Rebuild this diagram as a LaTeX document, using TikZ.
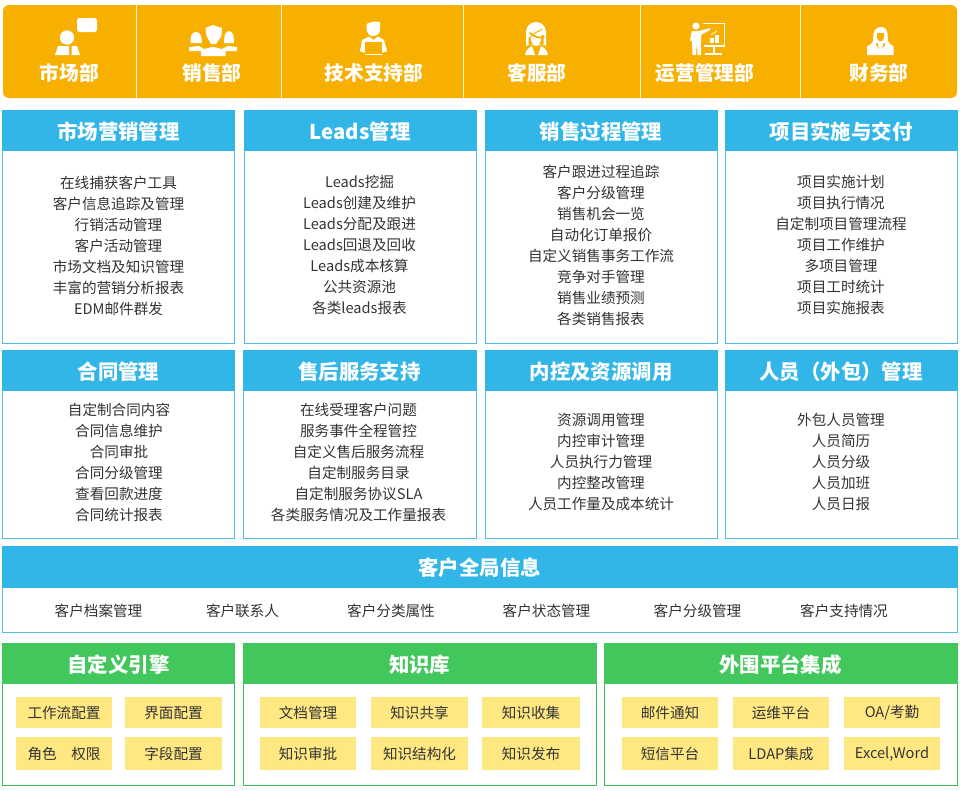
\documentclass[tikz,border=0pt]{standalone}
\usepackage{fontspec}
\setmainfont{Noto Sans CJK SC}
\definecolor{barY}{HTML}{F7B000}
\definecolor{headB}{HTML}{32B6E8}
\definecolor{edgeB}{HTML}{4DBDE8}
\definecolor{headG}{HTML}{41C75C}
\definecolor{edgeG}{HTML}{3DBB58}
\definecolor{chipY}{HTML}{FFE882}
\definecolor{txt}{HTML}{333333}
\tikzset{
 x=1pt,y=-1pt,
 toplabel/.style={text=white,font=\fontsize{19.7}{20}\selectfont\bfseries,inner sep=0pt},
 headlabel/.style={text=white,font=\fontsize{20.4}{22}\selectfont\bfseries,inner sep=0pt},
 bodytext/.style={text=txt,font=\fontsize{14.6}{21}\selectfont,align=center,inner sep=0pt},
 chiptext/.style={text=txt,font=\fontsize{14.6}{18}\selectfont,inner sep=0pt},
 divider/.style={draw=white!85!barY,line width=.8pt},
 icon/.style={fill=white,draw=none},
 iconline/.style={draw=white,line width=1.3pt,fill=none},
}
% name, x0, x1, ytop, yhead, ybot, head colour, edge colour, title
\newcommand{\panelbox}[9]{%
 \path[fill=white,draw=#8,line width=1pt] (#2,#4) rectangle (#3,#6);
 \path[fill=#7] (#2-.5,#4-.5) rectangle (#3+.5,#5);
 \node[headlabel] (#1) at ({(#2+#3)/2},{(#4+#5)/2+.8}) {#9};
}
\newcommand{\chipbox}[6]{%
 \path[fill=chipY] (#2,#4) rectangle (#3,#5);
 \node[chiptext] (#1) at ({(#2+#3)/2},{(#4+#5)/2+.6}) {#6};
}
\begin{document}
\begin{tikzpicture}
\useasboundingbox[fill=white] (0,0) rectangle (960,790);
% top bar
\path[fill=barY,rounded corners=6pt] (3,5) rectangle (957,98);
\foreach \xx in {136,281,463,640,800} \draw[divider] (\xx,5) -- (\xx,98);
\node[toplabel] (t1) at (69.5,73) {市场部};
\node[toplabel] (t2) at (212,73) {销售部};
\node[toplabel] (t3) at (374,73) {技术支持部};
\node[toplabel] (t4) at (537,73) {客服部};
\node[toplabel] (t5) at (705,73) {运营管理部};
\node[toplabel] (t6) at (879,73) {财务部};
% icon: market
\fill[icon] (67,37.5) circle (7.2);
\fill[icon] (58,46) -- (69,46) -- (69,55) -- (55,55) -- cycle;
\fill[icon] (71.5,46) -- (77,46) -- (80,55) -- (71.5,55) -- cycle;
\fill[icon,rounded corners=2.5pt] (77,18) rectangle (97,32);
% icon: sales
\fill[icon] (190.5,43) .. controls (190,36) and (192,32) .. (196,32) .. controls (200,32) and (202,36) .. (202,43) -- cycle;
\fill[icon] (205.5,28) -- (213,25) -- (222,28) -- (221.5,36) -- (216,44) -- (211,44) -- (206.5,36) -- cycle;
\fill[icon] (224,43) .. controls (224,36) and (225,31) .. (229,31) .. controls (233,31) and (234,36) .. (234,43) -- cycle;
\fill[icon] (189,47) -- (199,46) -- (204,49) -- (212,47) -- (214,47) -- (222,49) -- (228,46) -- (237,47) -- (237,51) -- (225.5,51) -- (225.5,56) -- (201,56) -- (201,51) -- (189,51) -- cycle;
% icon: tech
\fill[icon] (366.5,24) .. controls (370,22) and (375,21) .. (380,22) -- (380,30) .. controls (380,33) and (377,36) .. (373.5,36) .. controls (369,36) and (367,33) .. (366.5,30) -- cycle;
\fill[icon] (362,40) -- (369,36.5) -- (373.5,40) -- (378,36.5) -- (384,40) -- (387,51) -- (384,52.5) -- (363,52.5) -- (360,51) -- cycle;
\fill[barY] (365,42) rectangle (382,52.6);
\fill[icon] (365,53.5) rectangle (382,55);
% icon: service
\fill[icon] (526,46) -- (526,32) .. controls (526,26) and (531,22) .. (536,22) .. controls (541,22) and (546,26) .. (546,32) -- (546,46) -- (542,44) -- (536,46) -- (530,44) -- cycle;
\fill[barY] (528.5,44) -- (528.5,37) -- (530.5,37) -- (531,41) -- (533,44) -- cycle;
\fill[barY] (543.5,44) -- (543.5,35) -- (541.5,35) -- (541,41) -- (539,44) -- cycle;
\draw[barY,line width=1.8pt,line cap=round] (530,33) .. controls (534,36) and (538,39) .. (544,37);
\draw[barY,line width=1pt] (531,37) .. controls (534,32) and (539,32) .. (542,29);
\fill[icon] (525,55) .. controls (526,50) and (529,47) .. (532,46) -- (535,55) -- cycle;
\fill[icon] (548,55) .. controls (547,50) and (544,47) .. (541,46) -- (538,55) -- cycle;
% icon: operations
\fill[icon] (696,26) circle (3.6);
\fill[icon] (692,31) -- (699,31) -- (710,28) -- (710,30) -- (701,35) -- (701,55) -- (697.5,55) -- (697,42) -- (696,55) -- (692.5,55) -- (692,42) -- (690,40) -- cycle;
\draw[iconline] (703,23.5) -- (724.5,23.5) -- (724.5,46) -- (704,46);
\fill[icon] (712.5,46) rectangle (714.5,53);
\fill[icon] (705,53) rectangle (722,55);
\fill[icon] (710,38) rectangle (713.5,43);
\fill[icon] (715,35) rectangle (718.5,43);
\draw[iconline,line width=.8pt] (711,35) -- (717,31);
% icon: finance
\fill[icon] (873.5,34) .. controls (874,29) and (878,27) .. (881,27) .. controls (885,27) and (887.5,30) .. (887.5,34) -- (888,41) -- (890,44) -- (893.5,46.5) -- (893.5,55) -- (867,55) -- (867,46.5) -- (871,44) -- (873,41) -- cycle;
\fill[barY] (877,33) -- (884,33) -- (884,38) -- (882,41) -- (879,41) -- (877,38) -- cycle;
\fill[barY] (875.5,44) -- (877.5,43) -- (879,49) -- cycle;
\fill[barY] (885.5,44) -- (883.5,43) -- (882,49) -- cycle;
% row 1
\panelbox{h1}{2.5}{234.5}{110}{151}{343}{headB}{edgeB}{市场营销管理}
\panelbox{h2}{244}{476}{110}{151}{343}{headB}{edgeB}{Leads管理}
\panelbox{h3}{485}{717}{110}{151}{343}{headB}{edgeB}{销售过程管理}
\panelbox{h4}{725}{957}{110}{151}{343}{headB}{edgeB}{项目实施与交付}
\node[bodytext] (b1) at (118.5,246.4) {在线捕获客户工具\\客户信息追踪及管理\\行销活动管理\\客户活动管理\\市场文档及知识管理\\丰富的营销分析报表\\EDM邮件群发};
\node[bodytext] (b2) at (359.5,245.4) {Leads挖掘\\Leads创建及维护\\Leads分配及跟进\\Leads回退及回收\\Leads成本核算\\公共资源池\\各类leads报表};
\node[bodytext] (b3) at (601,245.8) {客户跟进过程追踪\\客户分级管理\\销售机会一览\\自动化订单报价\\自定义销售事务工作流\\竞争对手管理\\销售业绩预测\\各类销售报表};
\node[bodytext] (b4) at (841,245.4) {项目实施计划\\项目执行情况\\自定制项目管理流程\\项目工作维护\\多项目管理\\项目工时统计\\项目实施报表};
% row 2
\panelbox{h5}{2.5}{234.5}{350}{391}{538}{headB}{edgeB}{合同管理}
\panelbox{h6}{243}{476}{350}{391}{538}{headB}{edgeB}{售后服务支持}
\panelbox{h7}{485}{717}{350}{391}{538}{headB}{edgeB}{内控及资源调用}
\panelbox{h8}{725}{957}{350}{391}{538}{headB}{edgeB}{人员（外包）管理}
\node[bodytext] (b5) at (119,462.7) {自定制合同内容\\合同信息维护\\合同审批\\合同分级管理\\查看回款进度\\合同统计报表};
\node[bodytext] (b6) at (358.5,462.7) {在线受理客户问题\\服务事件全程管控\\自定义售后服务流程\\自定制服务目录\\自定制服务协议SLA\\各类服务情况及工作量报表};
\node[bodytext] (b7) at (601,462.4) {资源调用管理\\内控审计管理\\人员执行力管理\\内控整改管理\\人员工作量及成本统计};
\node[bodytext] (b8) at (841,462.4) {外包人员管理\\人员简历\\人员分级\\人员加班\\人员日报};
% customer
\panelbox{h9}{2.5}{957}{546}{588}{632}{headB}{edgeB}{客户全局信息}
\node[chiptext] (c1) at (98.5,611) {客户档案管理};
\node[chiptext] (c2) at (242.5,611) {客户联系人};
\node[chiptext] (c3) at (391,611) {客户分类属性};
\node[chiptext] (c4) at (546.5,611) {客户状态管理};
\node[chiptext] (c5) at (697.5,611) {客户分级管理};
\node[chiptext] (c6) at (844,611) {客户支持情况};
% bottom
\panelbox{h10}{2.5}{234.5}{643}{684}{785}{headG}{edgeG}{自定义引擎}
\panelbox{h11}{243.5}{596}{643}{684}{785}{headG}{edgeG}{知识库}
\panelbox{h12}{604}{957}{643}{684}{785}{headG}{edgeG}{外围平台集成}
\chipbox{k1}{16}{112}{697}{728}{工作流配置}
\chipbox{k2}{125}{222}{697}{728}{界面配置}
\chipbox{k3}{16}{112}{737}{769.5}{角色\hspace{1em}权限}
\chipbox{k4}{125}{222}{737}{769.5}{字段配置}
\chipbox{k5}{260}{356}{697}{728}{文档管理}
\chipbox{k6}{371}{468}{697}{728}{知识共享}
\chipbox{k7}{482}{580}{697}{728}{知识收集}
\chipbox{k8}{260}{356}{737}{769.5}{知识审批}
\chipbox{k9}{371}{468}{737}{769.5}{知识结构化}
\chipbox{k10}{482}{580}{737}{769.5}{知识发布}
\chipbox{k11}{622}{718}{697}{728}{邮件通知}
\chipbox{k12}{733}{829}{697}{728}{运维平台}
\chipbox{k13}{844}{940}{697}{728}{OA/考勤}
\chipbox{k14}{622}{718}{737}{769.5}{短信平台}
\chipbox{k15}{733}{829}{737}{769.5}{LDAP集成}
\chipbox{k16}{844}{940}{737}{769.5}{Excel,Word}
\end{tikzpicture}
\end{document}
